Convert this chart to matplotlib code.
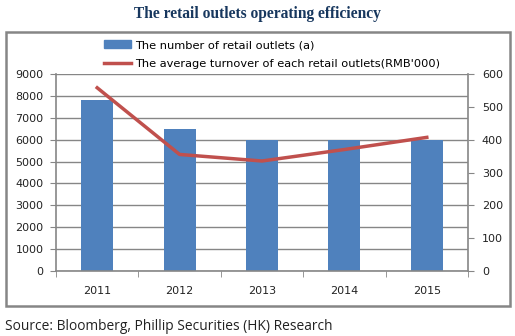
import matplotlib
matplotlib.use("Agg")
import matplotlib.pyplot as plt
from matplotlib.patches import Rectangle
from matplotlib.lines import Line2D
import numpy as np

years = ["2011", "2012", "2013", "2014", "2015"]
outlets = [7800, 6480, 6000, 6000, 6000]
turnover = [558, 355, 335, 370, 407]
left_ticks = [0, 1000, 2000, 3000, 4000, 5000, 6000, 7000, 8000, 9000]
right_ticks = [0, 100, 200, 300, 400, 500, 600]

bar_color = "#4F81BD"
line_color = "#C0504D"
grid_color = "#868686"

fig = plt.figure(figsize=(5.15, 3.36), dpi=100)
ax = fig.add_axes([56/515, 1-271/336, 412/515, 197/336])
x = np.arange(len(years))
ax.bar(x, outlets, width=0.39, color=bar_color, zorder=2)
ax.set_xlim(-0.5, len(years)-0.5)
ax.set_ylim(0, 9000)
ax.set_yticks(left_ticks)
ax.set_yticklabels([str(v) for v in left_ticks])
ax.set_xticks(x)
ax.set_xticklabels(years)
ax.set_xticks(np.arange(-0.5, len(years)), minor=True)
ax.tick_params(axis="x", which="major", length=0, pad=11)
ax.tick_params(axis="x", which="minor", length=4, color=grid_color, direction="out")
ax.tick_params(axis="y", length=4, color=grid_color, direction="out", pad=5)
ax.tick_params(labelsize=8, labelcolor="#222222")
ax.grid(axis="y", color=grid_color, linewidth=1.0, zorder=0)
ax.set_axisbelow(True)
for s in ["top", "right"]:
    ax.spines[s].set_visible(False)
for s in ["left", "bottom"]:
    ax.spines[s].set_color(grid_color)
    ax.spines[s].set_linewidth(1.2)

ax2 = ax.twinx()
ax2.plot(x, turnover, color=line_color, linewidth=2.5, zorder=3)
ax2.set_ylim(0, 600)
ax2.set_yticks(right_ticks)
ax2.set_yticklabels([str(v) for v in right_ticks])
ax2.tick_params(axis="y", length=4, color=grid_color, direction="out", labelsize=8, labelcolor="#222222", pad=6)
for s in ["top", "left", "bottom"]:
    ax2.spines[s].set_visible(False)
ax2.spines["right"].set_color(grid_color)
ax2.spines["right"].set_linewidth(1.2)

handles = [Rectangle((0, 0), 1, 1, color=bar_color),
           Line2D([0], [0], color=line_color, linewidth=2.5)]
labels = ["The number of retail outlets (a)",
          "The average turnover of each retail outlets(RMB'000)"]
fig.legend(handles, labels, loc="upper left", bbox_to_anchor=(104/515, 1-40/336),
           frameon=False, fontsize=8.2, handlelength=2.4, handleheight=0.6, handletextpad=0.3,
           labelspacing=0.75, borderpad=0, borderaxespad=0)

fig.patches.append(Rectangle((6/515, 1-306/336), 504/515, 274/336, transform=fig.transFigure,
                             fill=False, edgecolor=grid_color, linewidth=1.8))

fig.text(0.5, 1-14/336, "The retail outlets operating efficiency", ha="center", va="center",
         fontsize=11.2, fontweight="bold", family="Liberation Serif", color="#17375E")
fig.text(5/515, 1-326/336, "Source: Bloomberg, Phillip Securities (HK) Research", ha="left", va="center",
         fontsize=9.9, family="Open Sans", color="#222222")

fig.savefig("out.png", dpi=100)
